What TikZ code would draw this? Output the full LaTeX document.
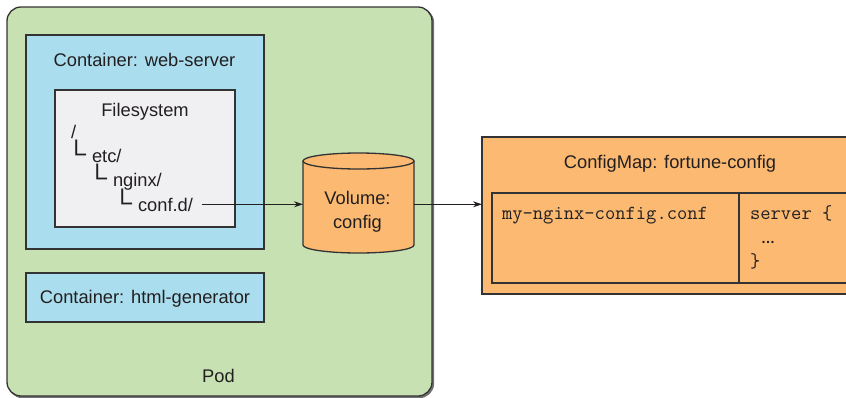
\documentclass[tikz,border=0pt]{standalone}
\usepackage{fontspec}
\setmainfont{Liberation Sans}
\usetikzlibrary{arrows.meta,calc}
\definecolor{podgreen}{HTML}{C8E1B3}
\definecolor{cblue}{HTML}{AADEEF}
\definecolor{fsgray}{HTML}{F0F0F2}
\definecolor{vorange}{HTML}{FBB971}
\definecolor{edgec}{HTML}{333333}
\definecolor{txt}{HTML}{231F20}
\newcommand{\treecorner}{\scalebox{1.5}[1.35]{└}}
\begin{document}
\begin{tikzpicture}[x=1pt,y=-1pt,
  box/.style={draw=edgec,line width=1.3pt,inner sep=0,outer sep=0,anchor=north west},
  lbl/.style={inner sep=0,outer sep=0,anchor=base,text=txt,font=\fontsize{18.3}{22}\selectfont},
  mono/.style={inner sep=0,outer sep=0,anchor=base west,text=txt,font=\ttfamily\fontsize{20}{24}\selectfont},
  arr/.style={draw=txt,line width=0.9pt,-{Stealth[length=9pt,width=6pt]}}]
\useasboundingbox (0,0) rectangle (846,397);
\clip (0,0) rectangle (846,397);
% Pod
\node[box,draw=black!55,fill=black!55,rounded corners=14pt,minimum width=425pt,minimum height=389pt] (podsh) at (8.5,8.5) {};
\node[box,fill=podgreen,rounded corners=14pt,minimum width=425pt,minimum height=389pt] (pod) at (7,7) {};
\node[lbl] (podt) at (218.5,382) {Pod};
% web-server container
\node[box,fill=cblue,minimum width=238pt,minimum height=214pt] (web) at (26,35) {};
\node[lbl] (webt) at (144.5,66.7) {Container: web-server};
% filesystem
\node[box,fill=fsgray,minimum width=180pt,minimum height=137pt] (fs) at (55,90) {};
\node[lbl] (fst) at (145,116) {Filesystem};
\node[lbl,anchor=base west] (root) at (71,138) {/};
\node[lbl,anchor=base west] (c1) at (66.5,162.7) {\treecorner};
\node[lbl,anchor=base west] (etc) at (92,162.7) {etc/};
\node[lbl,anchor=base west] (c2) at (87.5,186.7) {\treecorner};
\node[lbl,anchor=base west] (nginx) at (113,186.7) {nginx/};
\node[lbl,anchor=base west] (c3) at (112.5,211) {\treecorner};
\node[lbl,anchor=base west] (confd) at (138,211) {conf.d/};
% html-generator
\node[box,fill=cblue,minimum width=238pt,minimum height=49pt] (html) at (26,273) {};
\node[lbl] (htmlt) at (145,303) {Container: html-generator};
% volume cylinder
\fill[vorange] (303,161) -- (303,245) arc[start angle=180,end angle=0,x radius=55.5,y radius=8]
   -- (414,161) arc[start angle=0,end angle=-180,x radius=55.5,y radius=8] -- cycle;
\draw[edgec,line width=1.3pt] (303,161) -- (303,245) arc[start angle=180,end angle=0,x radius=55.5,y radius=8]
   -- (414,161);
\draw[edgec,line width=1.3pt] (358.5,161) ellipse[x radius=55.5,y radius=8];
\node[inner sep=0,outer sep=0,minimum width=111pt,minimum height=84pt] (vol) at (358.5,204.3) {};
\node[lbl] (volt1) at (357.5,204) {Volume:};
\node[lbl] (volt2) at (357.5,228) {config};
% configmap
\node[box,fill=vorange,minimum width=390pt,minimum height=157pt] (cm) at (482,137) {};
\node[lbl] (cmt) at (670,168.3) {ConfigMap: fortune-config};
\node[box,fill=vorange,minimum width=247pt,minimum height=90pt] (cmkey) at (492,193) {};
\node[box,fill=vorange,minimum width=130pt,minimum height=90pt] (cmval) at (739,193) {};
\node[mono] (keyt) at (502,219) {my-nginx-config.conf};
\node[mono] (srv1) at (750,219) {server \{};
\node[lbl,anchor=base west,font=\fontsize{14}{16}\selectfont\bfseries] (srv2) at (761,243) {…};
\node[mono] (srv3) at (750,267) {\}};
% connectors
\path let \p1=(confd.east), \p2=(vol.west) in coordinate (cfout) at (\x1+9pt,\y2);
\draw[arr] (cfout) -- (vol.west);
\draw[arr] (vol.east) -- (cm.west |- vol.east);
\end{tikzpicture}
\end{document}
